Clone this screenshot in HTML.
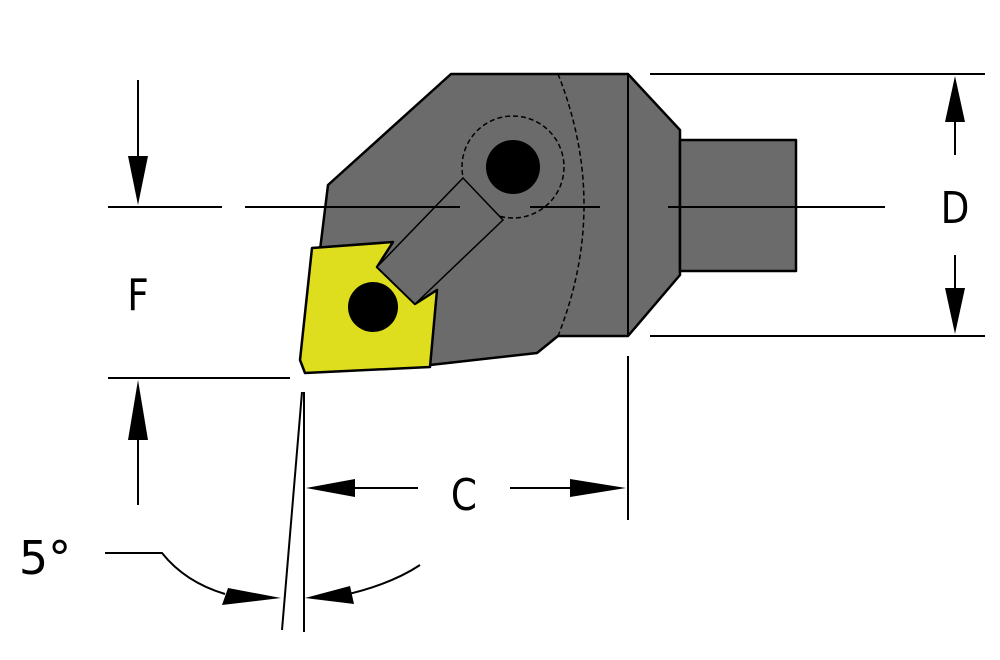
<!DOCTYPE html>
<html><head><style>body{margin:0;background:#fff}svg{display:block}</style></head><body>
<svg width="1000" height="660" viewBox="0 0 1000 660" xmlns="http://www.w3.org/2000/svg">
<g stroke="#000" stroke-width="2.5" stroke-linejoin="round">
<polygon points="451,74 628,74 680,130 680,275 628,336 558,336 537,353 430,365 320,250 328,185" fill="#6b6b6b"/>
<rect x="680" y="140" width="116" height="131" fill="#6b6b6b"/>
</g>
<line x1="628" y1="74" x2="628" y2="336" stroke="#000" stroke-width="2"/>
<path d="M558,74 Q610,205 558,336" fill="none" stroke="#000" stroke-width="1.5" stroke-dasharray="5,3"/>
<circle cx="513" cy="167" r="51" fill="none" stroke="#000" stroke-width="1.5" stroke-dasharray="5,3"/>
<circle cx="513" cy="167" r="27" fill="#000"/>
<polygon points="312,248 393,242 377,267 415,304 437,290 430,367 305,373 300,360" fill="#dede1e" stroke="#000" stroke-width="2.5" stroke-linejoin="round"/>
<polygon points="463,178 503,220 415,304 377,267" fill="#6b6b6b" stroke="#000" stroke-width="1.5"/>
<circle cx="373" cy="307" r="25" fill="#000"/>
<g stroke="#000" stroke-width="2" fill="none">
<line x1="108" y1="207" x2="222" y2="207"/>
<line x1="245" y1="207" x2="460" y2="207"/>
<line x1="530" y1="207" x2="600" y2="207"/>
<line x1="668" y1="207" x2="885" y2="207"/>
<line x1="650" y1="74" x2="985" y2="74"/>
<line x1="650" y1="336" x2="985" y2="336"/>
<line x1="955" y1="110" x2="955" y2="155"/>
<line x1="955" y1="255" x2="955" y2="300"/>
<line x1="138" y1="80" x2="138" y2="160"/>
<line x1="108" y1="378" x2="290" y2="378"/>
<line x1="138" y1="430" x2="138" y2="505"/>
<line x1="628" y1="356" x2="628" y2="520"/>
<line x1="304" y1="392" x2="304" y2="632"/>
<line x1="302" y1="392" x2="282" y2="630"/>
<line x1="340" y1="488" x2="418" y2="488"/>
<line x1="510" y1="488" x2="580" y2="488"/>
<path d="M105,553 L162,553 Q185,582 225,594"/>
<path d="M420,565 Q390,585 340,596"/>
</g>
<g fill="#000">
<polygon points="955,76 945,122 965,122"/>
<polygon points="955,334 945,288 965,288"/>
<polygon points="138,205 128,156 148,156"/>
<polygon points="138,380 128,440 148,440"/>
<polygon points="306,488 355,479 355,497"/>
<polygon points="626,488 570,479 570,497"/>
<polygon points="281,598 228,588 222,605"/>
<polygon points="305,598 350,586 354,604"/>
</g>
<g font-family="DejaVu Sans, sans-serif" font-size="44" fill="#000" text-anchor="middle" transform="" >
<text x="955" y="223" transform="translate(955,0) scale(0.85,1) translate(-955,0)">D</text>
<text x="138" y="310" transform="translate(138,0) scale(0.85,1) translate(-138,0)">F</text>
<text x="464" y="510" transform="translate(464,0) scale(0.85,1) translate(-464,0)">C</text>
<text x="45" y="574" font-size="46">5°</text>
</g>
</svg>
</body></html>
